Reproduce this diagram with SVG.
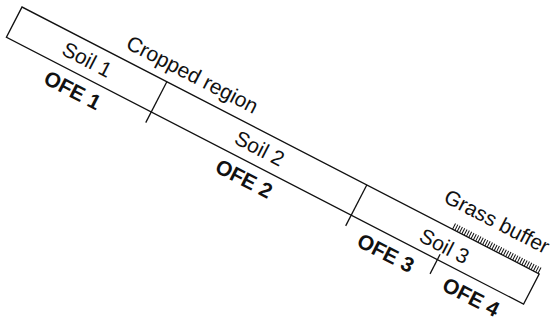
<svg xmlns="http://www.w3.org/2000/svg" width="553" height="321" viewBox="0 0 553 321">
  <style>
    .edge { fill: none; stroke: #111; stroke-width: 1.3; }
    .lbl { font-family: "Liberation Sans", Arial, sans-serif; font-size: 21px; fill: #111; text-anchor: middle; }
    .ofe { font-weight: bold; }
    .hatch { fill: none; stroke: #111; stroke-width: 6.5; stroke-dasharray: 1 1.6; }
  </style>
  <rect width="553" height="321" fill="#fff"/>
  <!-- hillslope strip, drawn in a frame aligned with the slope -->
  <g transform="translate(22 7) rotate(27.3)">
    <g id="strip">
      <rect class="edge" x="0" y="0" width="582" height="34"/>
    </g>
    <g id="connectors">
      <line class="edge" x1="163" y1="0" x2="163" y2="46"/>
      <line class="edge" x1="388" y1="0" x2="388" y2="46"/>
      <line class="edge" x1="485" y1="28" x2="485" y2="50"/>
    </g>
    <g id="grass-buffer">
      <line class="hatch" x1="484" y1="-3.25" x2="582" y2="-3.25"/>
      <text class="lbl" x="578" y="-20" style="text-anchor:end">Grass buffer</text>
    </g>
    <g id="cropped-region">
      <text class="lbl" x="110" y="-11" style="text-anchor:start">Cropped region</text>
    </g>
    <g id="soil-1"><text class="lbl" x="82" y="24">Soil 1</text></g>
    <g id="soil-2"><text class="lbl" x="276" y="24">Soil 2</text></g>
    <g id="soil-3"><text class="lbl" x="485" y="26">Soil 3</text></g>
    <g id="ofe-1"><text class="lbl ofe" x="83" y="58">OFE 1</text></g>
    <g id="ofe-2"><text class="lbl ofe" x="276" y="58">OFE 2</text></g>
    <g id="ofe-3"><text class="lbl ofe" x="436" y="59">OFE 3</text></g>
    <g id="ofe-4"><text class="lbl ofe" x="532" y="59">OFE 4</text></g>
  </g>
</svg>
